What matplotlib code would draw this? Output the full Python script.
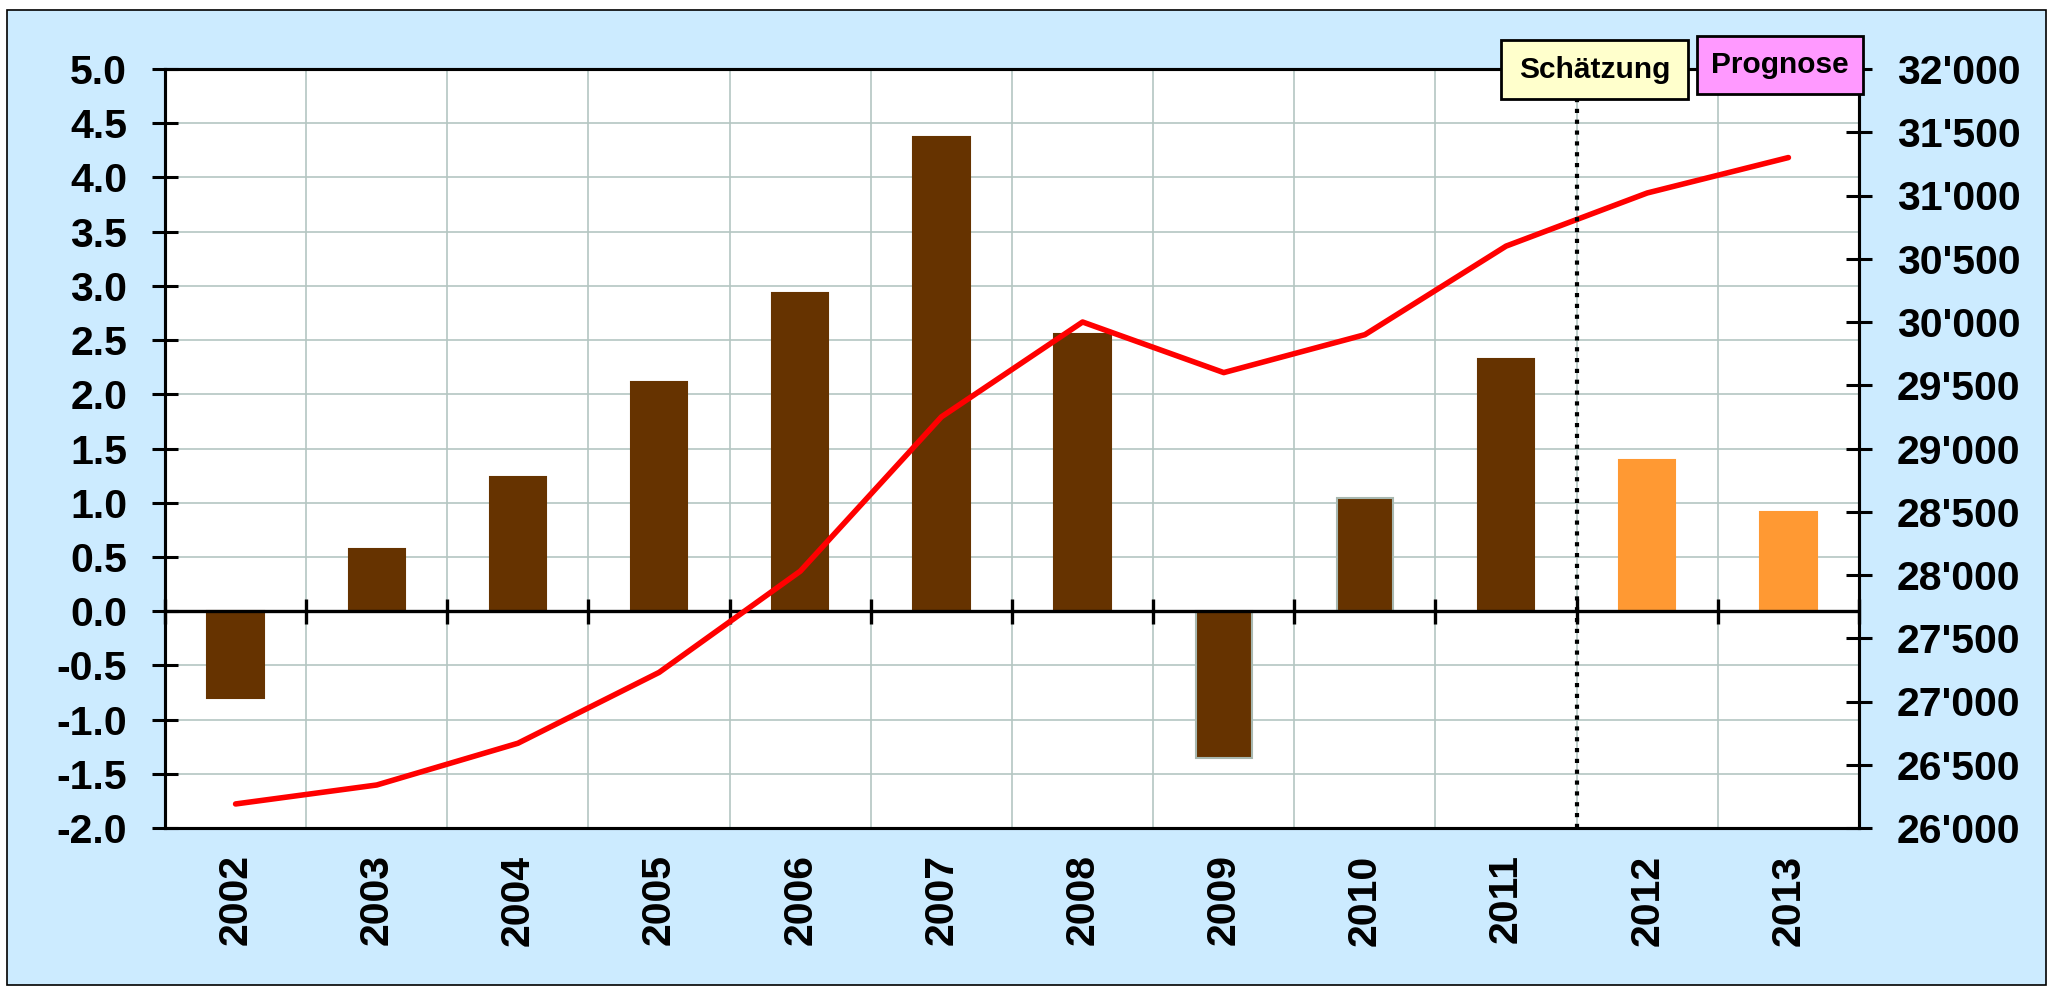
import numpy as np
import matplotlib
matplotlib.use("Agg")
import matplotlib.pyplot as plt
from matplotlib.patches import Rectangle
from matplotlib.ticker import FuncFormatter, MultipleLocator

plt.rcParams['font.family'] = ['Liberation Sans', 'DejaVu Sans']
plt.rcParams['font.weight'] = 'bold'

# data
years = ['2002', '2003', '2004', '2005', '2006', '2007',
         '2008', '2009', '2010', '2011', '2012', '2013']
growth = [-0.80, 0.57, 1.24, 2.11, 2.93, 4.37, 2.56, -1.35, 1.04, 2.33, 1.39, 0.91]
level = [26190, 26340, 26670, 27230, 28030, 29250, 30000, 29600, 29900, 30600, 31020, 31300]
n_actual = 10          # 2002-2011 actual, 2012-2013 forecast
split_pos = 9.5        # Schätzung line between 2011 and 2012

brown = '#663300'
orange = '#FF9933'
grid_col = '#B4C6C2'
bg = '#CCEBFF'
fs = 29.5

W, H = 2050, 986
fig = plt.figure(figsize=(W / 100, H / 100), dpi=100, facecolor='white')
fig.patches.append(Rectangle((7 / W, 1 / H), 2039 / W, 975 / H, transform=fig.transFigure,
                             facecolor=bg, edgecolor='black', linewidth=1.2, zorder=-10))

ax = fig.add_axes([165 / W, 1 - 828 / H, (1859 - 165) / W, (828 - 69) / H])
ax.set_facecolor('white')
x = np.arange(len(years))

bar_colors = [brown] * n_actual + [orange] * (len(years) - n_actual)
edge_colors = [brown] * len(years)
edge_colors[7] = '#A8B8B0'
edge_colors[8] = '#A8B8B0'
edge_colors[10] = orange
edge_colors[11] = orange
ax.bar(x, growth, width=0.4, color=bar_colors, edgecolor=edge_colors, linewidth=1.5, zorder=2)

ax.set_xlim(-0.5, len(years) - 0.5)
ax.set_ylim(-2, 5)
ax.yaxis.set_major_locator(MultipleLocator(0.5))
ax.yaxis.set_major_formatter(FuncFormatter(lambda v, p: f"{v:.1f}"))
ax.set_xticks(x)
ax.set_xticklabels(years, rotation=90, fontsize=fs, fontweight='bold')
ax.set_xticks(np.arange(-0.5, len(years), 1), minor=True)
ax.tick_params(axis='x', which='both', length=0, pad=19)
ax.tick_params(axis='y', direction='inout', length=18.5, width=2.2, labelsize=fs, pad=18)
for lab in ax.get_yticklabels():
    lab.set_fontweight('bold')
ax.grid(True, axis='y', which='major', color=grid_col, linewidth=1.2)
ax.grid(True, axis='x', which='minor', color=grid_col, linewidth=1.2)
ax.set_axisbelow(True)
for s in ax.spines.values():
    s.set_linewidth(2.2)
    s.set_color('black')

# category axis crossing at zero
ax.axhline(0, color='black', linewidth=2.4, zorder=2.5)
secax = ax.secondary_xaxis(2 / 7)
secax.set_zorder(5)
secax.set_xticks(np.arange(-0.5, len(years), 1))
secax.tick_params(axis='x', which='major', direction='inout', length=18, width=2.4,
                  color='black', labelbottom=False, labeltop=False)
for s in secax.spines.values():
    s.set_visible(False)

ax2 = ax.twinx()
ax2.plot(x, level, color='#FF0000', linewidth=4.0, solid_capstyle='round', solid_joinstyle='round', zorder=3)
ax2.set_ylim(26000, 32000)
ax2.yaxis.set_major_locator(MultipleLocator(500))
ax2.yaxis.set_major_formatter(FuncFormatter(lambda v, p: f"{v:,.0f}".replace(',', "'")))
ax2.tick_params(axis='y', direction='inout', length=18.5, width=2.2, labelsize=fs, pad=18)
for lab in ax2.get_yticklabels():
    lab.set_fontweight('bold')
for s in ax2.spines.values():
    s.set_linewidth(2.2)
ax2.axvline(split_pos, color='black', linewidth=3.0, linestyle=(0, (1.0, 1.6)), zorder=4)

# label boxes above the plot
def label_box(x0, y0, x1, y1, text, color):
    fig.patches.append(Rectangle((x0 / W, 1 - y1 / H), (x1 - x0) / W, (y1 - y0) / H,
                                 transform=fig.transFigure, facecolor=color,
                                 edgecolor='black', linewidth=2.0, zorder=5))
    fig.text((x0 + x1) / 2 / W, 1 - (y0 + y1) / 2 / H, text, ha='center', va='center',
             fontsize=21.5, fontweight='bold', zorder=6)

label_box(1501, 40, 1688, 99, 'Schätzung', '#FFFFCC')
label_box(1697, 36, 1863, 94, 'Prognose', '#FF99FF')

fig.savefig('out.png', dpi=100, facecolor=fig.get_facecolor())
